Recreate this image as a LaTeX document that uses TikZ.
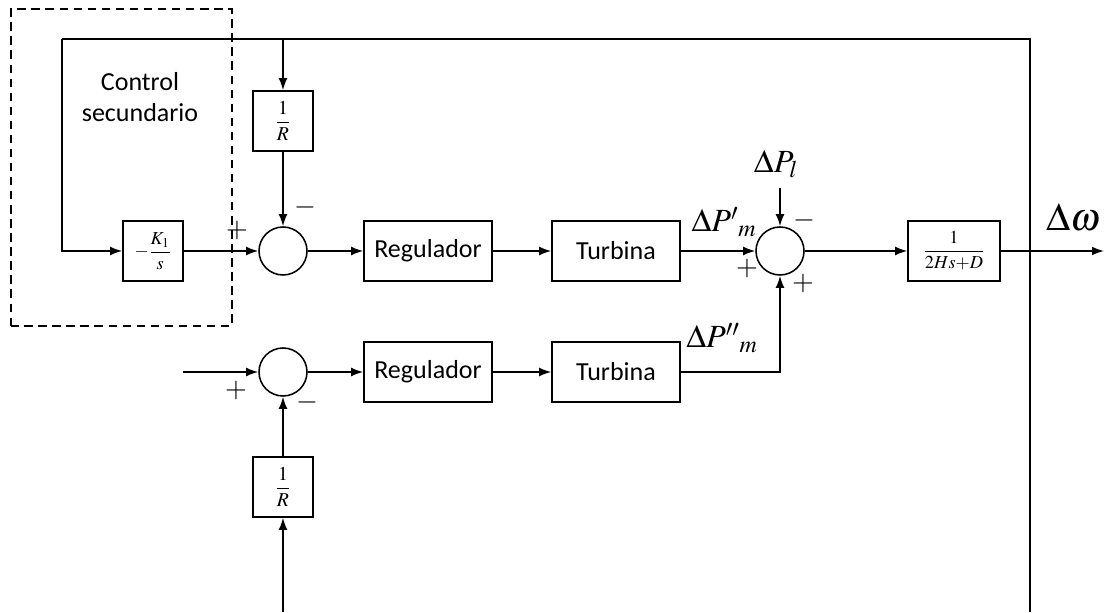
\documentclass[tikz,border=0pt]{standalone}
\usepackage{mathptmx}
\usepackage[no-math]{fontspec}
\setsansfont{Carlito}
\usetikzlibrary{arrows.meta}

\begin{document}
\begin{tikzpicture}[
    >={Latex[length=3mm,width=2.2mm]},
    line width=1.1pt,
    block/.style={draw, minimum width=3.2cm, minimum height=1.5cm, align=center, font=\sffamily\fontsize{18.5}{22}\selectfont},
    gain/.style={draw, minimum width=1.5cm, minimum height=1.5cm, inner sep=1pt, font=\fontsize{14}{16}\selectfont},
    sum/.style={draw, circle, minimum size=1.2cm, inner sep=0pt},
    sign/.style={font=\fontsize{20}{20}\selectfont, inner sep=0pt},
    sig/.style={font=\fontsize{23}{25}\selectfont, inner sep=0pt}
]
    \useasboundingbox (0,0) rectangle (27.6,15.3);

    % Secondary control frame
    \draw[line width=0.8pt, dash pattern=on 6pt off 4pt] (0.275,7.15) rectangle (5.8,15.075);
    \node[align=center, font=\sffamily\fontsize{18.5}{21.5}\selectfont] (ctl) at (3.5,12.875) {Control\\secundario};

    % Upper branch
    \node[gain, font=\fontsize{13}{15}\selectfont] (k1) at (3.825,9.025) {$\displaystyle -\frac{K_1}{s}$};
    \node[sum] (sum1) at (7.075,9.025) {};
    \node[gain] (r1) at (7.075,12.275) {$\displaystyle\frac{1}{R}$};
    \node[block] (reg1) at (10.7,9.025) {Regulador};
    \node[block] (turb1) at (15.4,9.025) {Turbina};

    % Lower branch
    \node[sum] (sum2) at (7.075,6.0) {};
    \node[gain] (r2) at (7.075,3.125) {$\displaystyle\frac{1}{R}$};
    \node[block] (reg2) at (10.7,6.0) {Regulador};
    \node[block] (turb2) at (15.4,6.0) {Turbina};

    % Power balance and system
    \node[sum] (sum3) at (19.5,9.025) {};
    \node[gain, minimum width=2.3cm, font=\fontsize{13}{15}\selectfont] (sys) at (23.85,9.025) {$\displaystyle\frac{1}{2Hs{+}D}$};

    % Free ends and corners
    \coordinate (jo) at (25.75,9.025);
    \coordinate (tr) at (25.75,14.325);
    \coordinate (tm) at (7.075,14.325);
    \coordinate (tl) at (1.55,14.325);
    \coordinate (br) at (25.75,0);
    \coordinate (bm) at (7.075,0);
    \coordinate (out) at (27.6,9.025);
    \coordinate (in2) at (4.575,6.0);
    \coordinate (pl) at (19.5,10.6);

    % Connectors
    \draw[->] (k1) -- (sum1);
    \draw[->] (r1) -- (sum1);
    \draw[->] (sum1) -- (reg1);
    \draw[->] (reg1) -- (turb1);
    \draw[->] (turb1) -- (sum3);
    \draw[->] (in2) -- (sum2);
    \draw[->] (r2) -- (sum2);
    \draw[->] (sum2) -- (reg2);
    \draw[->] (reg2) -- (turb2);
    \draw[->] (turb2) -| (sum3);
    \draw[->] (pl) -- (sum3);
    \draw[->] (sum3) -- (sys);
    \draw[->] (sys) -- (out);

    % Feedback loops
    \draw (jo) -- (tr) -- (tl);
    \draw[->] (tl) |- (k1);
    \draw[->] (tm) -- (r1);
    \draw (jo) -- (br);
    \draw[->] (bm) -- (r2);

    % Signals
    \node[sig] (dpl) at (19.4,11.2) {$\Delta P_l$};
    \node[sig] (dpm1) at (18.1,9.75) {$\Delta P'{}_{m}$};
    \node[sig] (dpm2) at (18.05,6.85) {$\Delta P''{}_{m}$};
    \node[sig, font=\fontsize{28}{30}\selectfont] (dw) at (26.85,9.875) {$\Delta\omega$};

    % Signs
    \node[sign] (s1p) at (5.925,9.55) {$+$};
    \node[sign] (s1m) at (7.625,10.125) {$-$};
    \node[sign] (s2p) at (5.9,5.55) {$+$};
    \node[sign] (s2m) at (7.675,5.25) {$-$};
    \node[sign] (s3m) at (20.1,9.8) {$-$};
    \node[sign] (s3p) at (18.675,8.6) {$+$};
    \node[sign] (s3q) at (20.075,8.225) {$+$};
\end{tikzpicture}
\end{document}
